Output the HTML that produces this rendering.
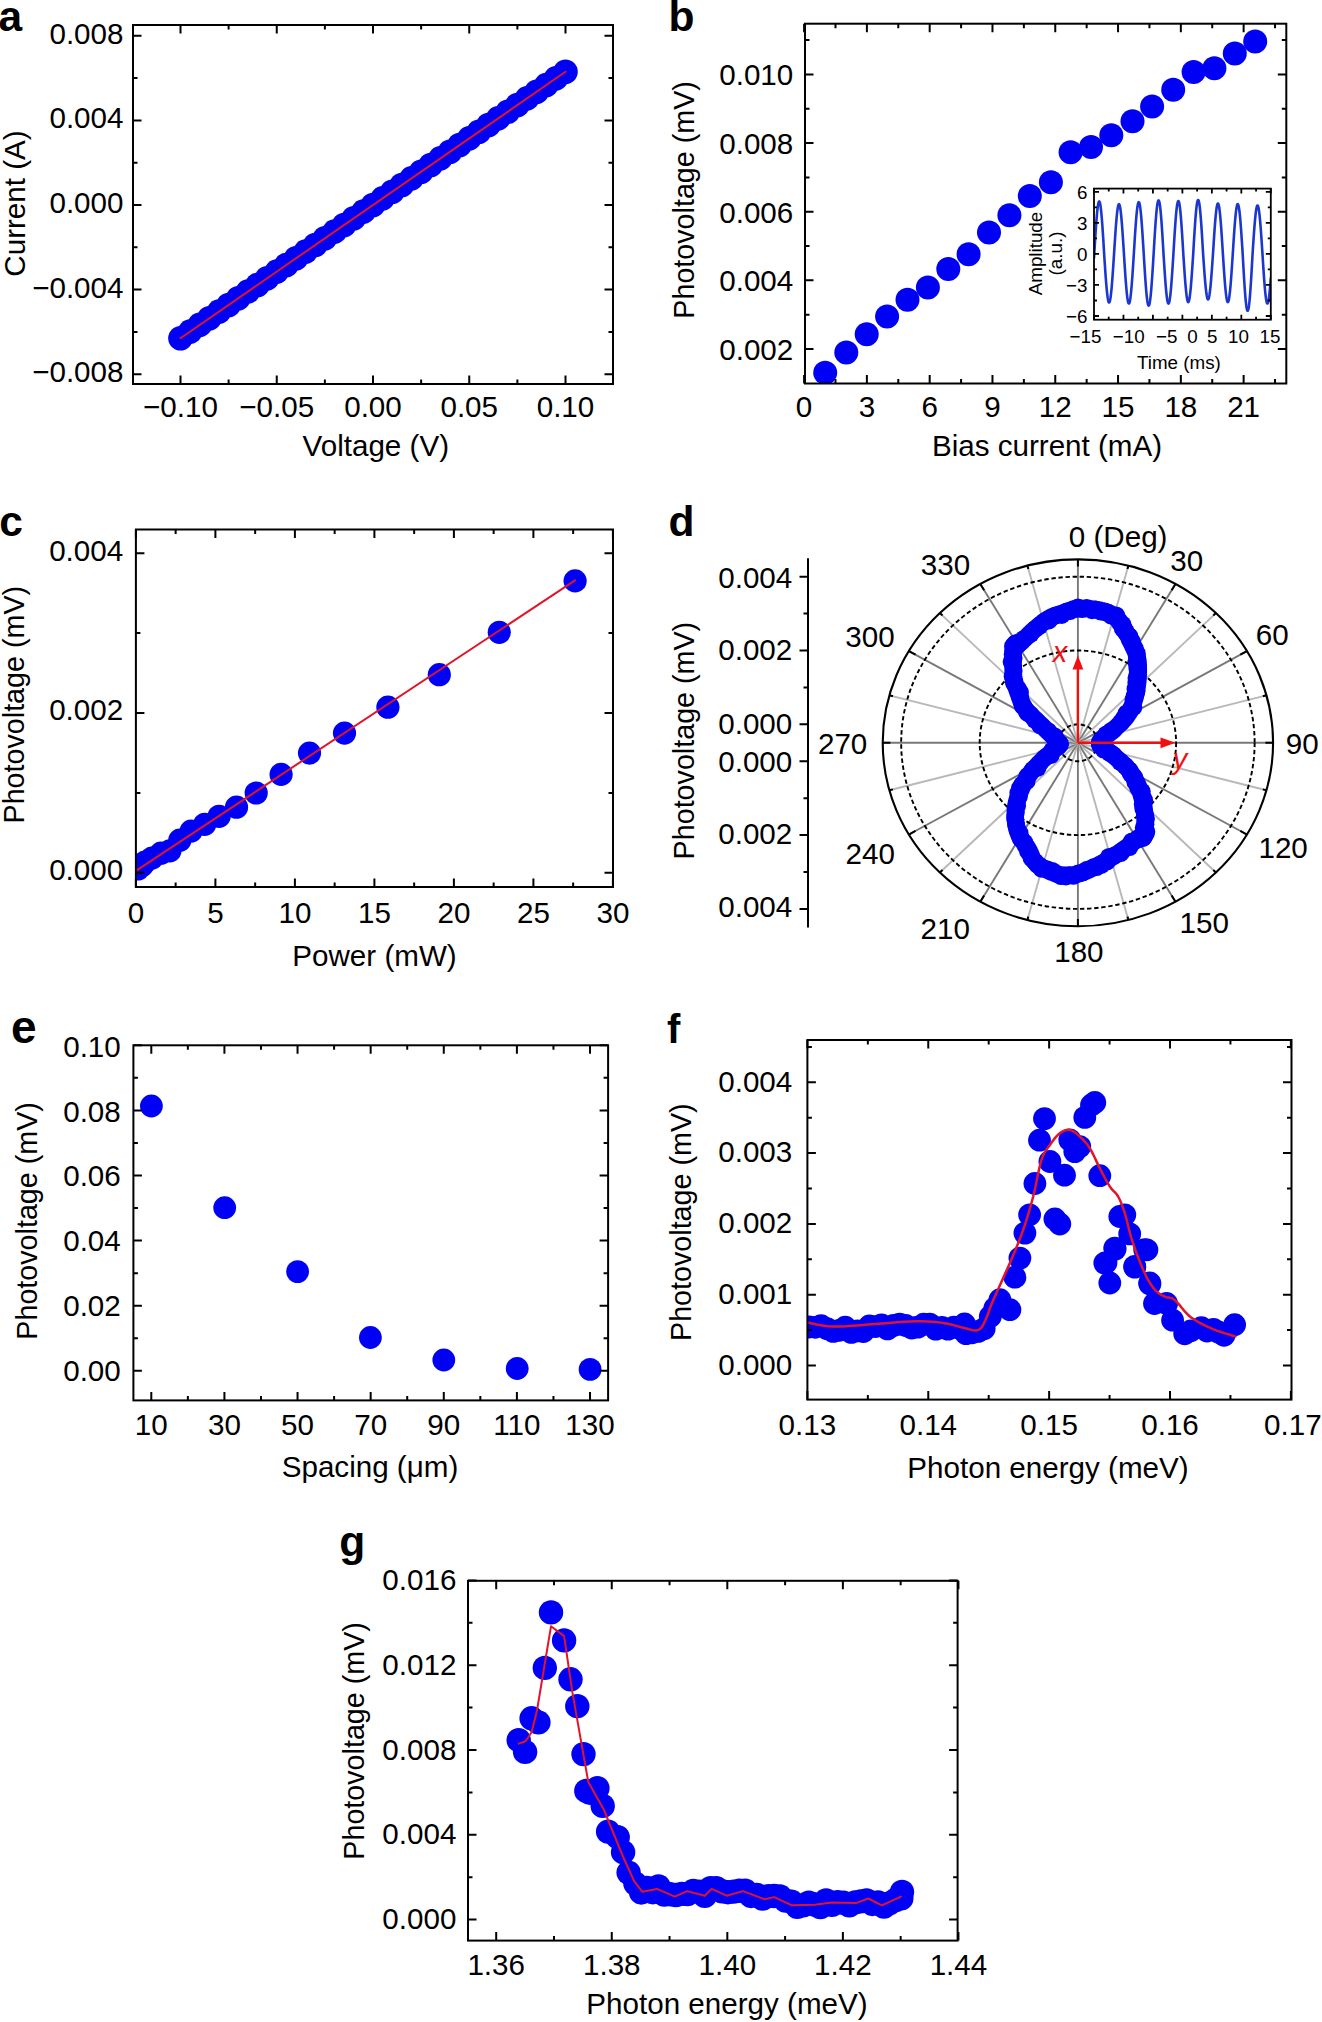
<!DOCTYPE html>
<html><head><meta charset="utf-8"><title>Figure</title>
<style>
html,body{margin:0;padding:0;background:#fff;overflow:hidden;}
svg{display:block;}
</style></head><body>
<svg width="1322" height="2022" viewBox="0 0 1322 2022" style="font-family:'Liberation Sans',sans-serif;font-size:29.6px">
<rect width="1322" height="2022" fill="#fff"/>
<g fill="#0000f5">
<circle cx="180.5" cy="338.25" r="12.3"/>
<circle cx="190.12" cy="331.58" r="12.3"/>
<circle cx="199.75" cy="324.92" r="12.3"/>
<circle cx="209.38" cy="318.26" r="12.3"/>
<circle cx="219" cy="311.6" r="12.3"/>
<circle cx="228.62" cy="304.93" r="12.3"/>
<circle cx="238.25" cy="298.27" r="12.3"/>
<circle cx="247.88" cy="291.61" r="12.3"/>
<circle cx="257.5" cy="284.95" r="12.3"/>
<circle cx="267.12" cy="278.28" r="12.3"/>
<circle cx="276.75" cy="271.62" r="12.3"/>
<circle cx="286.38" cy="264.96" r="12.3"/>
<circle cx="296" cy="258.3" r="12.3"/>
<circle cx="305.62" cy="251.64" r="12.3"/>
<circle cx="315.25" cy="244.97" r="12.3"/>
<circle cx="324.88" cy="238.31" r="12.3"/>
<circle cx="334.5" cy="231.65" r="12.3"/>
<circle cx="344.12" cy="224.99" r="12.3"/>
<circle cx="353.75" cy="218.32" r="12.3"/>
<circle cx="363.38" cy="211.66" r="12.3"/>
<circle cx="373" cy="205" r="12.3"/>
<circle cx="382.62" cy="198.34" r="12.3"/>
<circle cx="392.25" cy="191.68" r="12.3"/>
<circle cx="401.88" cy="185.01" r="12.3"/>
<circle cx="411.5" cy="178.35" r="12.3"/>
<circle cx="421.12" cy="171.69" r="12.3"/>
<circle cx="430.75" cy="165.03" r="12.3"/>
<circle cx="440.38" cy="158.36" r="12.3"/>
<circle cx="450" cy="151.7" r="12.3"/>
<circle cx="459.62" cy="145.04" r="12.3"/>
<circle cx="469.25" cy="138.38" r="12.3"/>
<circle cx="478.88" cy="131.72" r="12.3"/>
<circle cx="488.5" cy="125.05" r="12.3"/>
<circle cx="498.12" cy="118.39" r="12.3"/>
<circle cx="507.75" cy="111.73" r="12.3"/>
<circle cx="517.38" cy="105.07" r="12.3"/>
<circle cx="527" cy="98.4" r="12.3"/>
<circle cx="536.62" cy="91.74" r="12.3"/>
<circle cx="546.25" cy="85.08" r="12.3"/>
<circle cx="555.88" cy="78.42" r="12.3"/>
<circle cx="565.5" cy="71.75" r="12.3"/>
</g>
<polyline points="180.5,338.25 565.5,71.75" fill="none" stroke="#e0142a" stroke-width="2" stroke-linejoin="round" stroke-linecap="round"/>
<path d="M180.5 384L180.5 375.5M180.5 25L180.5 33.5M276.75 384L276.75 375.5M276.75 25L276.75 33.5M373 384L373 375.5M373 25L373 33.5M469.25 384L469.25 375.5M469.25 25L469.25 33.5M565.5 384L565.5 375.5M565.5 25L565.5 33.5M228.62 384L228.62 379.5M228.62 25L228.62 29.5M324.88 384L324.88 379.5M324.88 25L324.88 29.5M421.12 384L421.12 379.5M421.12 25L421.12 29.5M517.38 384L517.38 379.5M517.38 25L517.38 29.5M133 35.8L141.5 35.8M613 35.8L604.5 35.8M133 120.4L141.5 120.4M613 120.4L604.5 120.4M133 205L141.5 205M613 205L604.5 205M133 289.6L141.5 289.6M613 289.6L604.5 289.6M133 374.2L141.5 374.2M613 374.2L604.5 374.2M133 78.1L137.5 78.1M613 78.1L608.5 78.1M133 162.7L137.5 162.7M613 162.7L608.5 162.7M133 247.3L137.5 247.3M613 247.3L608.5 247.3M133 331.9L137.5 331.9M613 331.9L608.5 331.9" stroke="#000" stroke-width="2" fill="none"/>
<rect x="133" y="25" width="480" height="359" fill="none" stroke="#000" stroke-width="2"/>
<text x="123.5" y="43.8" text-anchor="end">0.008</text>
<text x="123.5" y="128.4" text-anchor="end">0.004</text>
<text x="123.5" y="213" text-anchor="end">0.000</text>
<text x="123.5" y="297.6" text-anchor="end">&#8722;0.004</text>
<text x="123.5" y="382.2" text-anchor="end">&#8722;0.008</text>
<text x="180.5" y="417.4" text-anchor="middle">&#8722;0.10</text>
<text x="276.75" y="417.4" text-anchor="middle">&#8722;0.05</text>
<text x="373" y="417.4" text-anchor="middle">0.00</text>
<text x="469.25" y="417.4" text-anchor="middle">0.05</text>
<text x="565.5" y="417.4" text-anchor="middle">0.10</text>
<text x="375.8" y="455.9" text-anchor="middle">Voltage (V)</text>
<text x="24.5" y="203.5" text-anchor="middle" transform="rotate(-90 24.5 203.5)">Current (A)</text>
<text x="-1.5" y="30.8" font-size="42.5" font-weight="bold">a</text>
<clipPath id="cb"><rect x="805" y="23.7" width="481.29999999999995" height="359.8"/></clipPath>
<g clip-path="url(#cb)">
<g fill="#0000f5">
<circle cx="825.2" cy="372.8" r="12"/>
<circle cx="846.3" cy="352.5" r="12"/>
<circle cx="866.7" cy="334.3" r="12"/>
<circle cx="887.1" cy="316.5" r="12"/>
<circle cx="907.5" cy="299.8" r="12"/>
<circle cx="927.9" cy="287.6" r="12"/>
<circle cx="948.3" cy="269.1" r="12"/>
<circle cx="968.6" cy="254.2" r="12"/>
<circle cx="989" cy="232.4" r="12"/>
<circle cx="1009.4" cy="215.3" r="12"/>
<circle cx="1029.8" cy="196" r="12"/>
<circle cx="1050.9" cy="182.3" r="12"/>
<circle cx="1070.6" cy="152.3" r="12"/>
<circle cx="1091" cy="147.1" r="12"/>
<circle cx="1111.3" cy="135.3" r="12"/>
<circle cx="1132.5" cy="121.2" r="12"/>
<circle cx="1152.1" cy="106.4" r="12"/>
<circle cx="1173.2" cy="89.7" r="12"/>
<circle cx="1193.6" cy="71.9" r="12"/>
<circle cx="1214.4" cy="68.2" r="12"/>
<circle cx="1234.8" cy="53.4" r="12"/>
<circle cx="1255.2" cy="41.5" r="12"/>
</g>
</g>
<path d="M804.1 383.5L804.1 375M804.1 23.7L804.1 32.2M866.89 383.5L866.89 375M866.89 23.7L866.89 32.2M929.68 383.5L929.68 375M929.68 23.7L929.68 32.2M992.47 383.5L992.47 375M992.47 23.7L992.47 32.2M1055.26 383.5L1055.26 375M1055.26 23.7L1055.26 32.2M1118.05 383.5L1118.05 375M1118.05 23.7L1118.05 32.2M1180.84 383.5L1180.84 375M1180.84 23.7L1180.84 32.2M1243.63 383.5L1243.63 375M1243.63 23.7L1243.63 32.2M835.5 383.5L835.5 379M835.5 23.7L835.5 28.2M898.29 383.5L898.29 379M898.29 23.7L898.29 28.2M961.08 383.5L961.08 379M961.08 23.7L961.08 28.2M1023.87 383.5L1023.87 379M1023.87 23.7L1023.87 28.2M1086.65 383.5L1086.65 379M1086.65 23.7L1086.65 28.2M1149.44 383.5L1149.44 379M1149.44 23.7L1149.44 28.2M1212.24 383.5L1212.24 379M1212.24 23.7L1212.24 28.2M1275.03 383.5L1275.03 379M1275.03 23.7L1275.03 28.2M805 349L813.5 349M1286.3 349L1277.8 349M805 280.35L813.5 280.35M1286.3 280.35L1277.8 280.35M805 211.7L813.5 211.7M1286.3 211.7L1277.8 211.7M805 143.05L813.5 143.05M1286.3 143.05L1277.8 143.05M805 74.4L813.5 74.4M1286.3 74.4L1277.8 74.4M805 314.68L809.5 314.68M1286.3 314.68L1281.8 314.68M805 246.03L809.5 246.03M1286.3 246.03L1281.8 246.03M805 177.38L809.5 177.38M1286.3 177.38L1281.8 177.38M805 108.73L809.5 108.73M1286.3 108.73L1281.8 108.73M805 40.08L809.5 40.08M1286.3 40.08L1281.8 40.08" stroke="#000" stroke-width="2" fill="none"/>
<rect x="805" y="23.7" width="481.3" height="359.8" fill="none" stroke="#000" stroke-width="2"/>
<text x="793.3" y="360" text-anchor="end">0.002</text>
<text x="793.3" y="291.35" text-anchor="end">0.004</text>
<text x="793.3" y="222.7" text-anchor="end">0.006</text>
<text x="793.3" y="154.05" text-anchor="end">0.008</text>
<text x="793.3" y="85.4" text-anchor="end">0.010</text>
<text x="804.1" y="417.2" text-anchor="middle">0</text>
<text x="866.89" y="417.2" text-anchor="middle">3</text>
<text x="929.68" y="417.2" text-anchor="middle">6</text>
<text x="992.47" y="417.2" text-anchor="middle">9</text>
<text x="1055.26" y="417.2" text-anchor="middle">12</text>
<text x="1118.05" y="417.2" text-anchor="middle">15</text>
<text x="1180.84" y="417.2" text-anchor="middle">18</text>
<text x="1243.63" y="417.2" text-anchor="middle">21</text>
<text x="1047" y="456" text-anchor="middle">Bias current (mA)</text>
<text x="693.9" y="199.9" text-anchor="middle" font-size="28.7" transform="rotate(-90 693.9 199.9)">Photovoltage (mV)</text>
<text x="668.5" y="30.8" font-size="42.5" font-weight="bold">b</text>
<rect x="1094" y="188.6" width="176.79999999999995" height="131.1" fill="#fff"/>
<clipPath id="ci"><rect x="1094" y="188.6" width="176.79999999999995" height="131.1"/></clipPath>
<g clip-path="url(#ci)">
<polyline points="1094,257.8 1094.25,253.94 1094.5,249.78 1094.75,245.65 1095,241.56 1095.25,237.56 1095.5,233.66 1095.75,229.88 1096,226.26 1096.25,222.81 1096.5,219.55 1096.75,216.52 1097,213.71 1097.25,211.17 1097.5,208.89 1097.75,206.89 1098,205.19 1098.25,203.79 1098.5,202.72 1098.75,201.96 1099,201.53 1099.25,201.43 1099.5,201.66 1099.75,202.22 1100,203.11 1100.25,204.31 1100.5,205.83 1100.75,207.65 1101,209.76 1101.25,212.15 1101.5,214.81 1101.75,217.7 1102,220.83 1102.25,224.16 1102.5,227.69 1102.75,231.37 1103,235.2 1103.25,239.15 1103.5,243.19 1103.75,247.3 1104,251.44 1104.25,255.48 1104.5,259.33 1104.75,263.15 1105,266.91 1105.25,270.58 1105.5,274.15 1105.75,277.6 1106,280.89 1106.25,284.01 1106.5,286.95 1106.75,289.67 1107,292.18 1107.25,294.44 1107.5,296.44 1107.75,298.18 1108,299.63 1108.25,300.8 1108.5,301.68 1108.75,302.25 1109,302.52 1109.25,302.49 1109.5,302.14 1109.75,301.5 1110,300.55 1110.25,299.31 1110.5,297.78 1110.75,295.98 1111,293.92 1111.25,291.6 1111.5,289.04 1111.75,286.26 1112,283.28 1112.25,280.11 1112.5,276.78 1112.75,273.31 1113,269.71 1113.25,266.01 1113.5,262.24 1113.75,258.41 1114,254.56 1114.25,250.62 1114.5,246.69 1114.75,242.81 1115,239 1115.25,235.28 1115.5,231.68 1115.75,228.21 1116,224.91 1116.25,221.8 1116.5,218.88 1116.75,216.18 1117,213.73 1117.25,211.52 1117.5,209.58 1117.75,207.92 1118,206.56 1118.25,205.48 1118.5,204.72 1118.75,204.26 1119,204.12 1119.25,204.29 1119.5,204.77 1119.75,205.56 1120,206.65 1120.25,208.05 1120.5,209.73 1120.75,211.69 1121,213.91 1121.25,216.39 1121.5,219.11 1121.75,222.04 1122,225.17 1122.25,228.49 1122.5,231.96 1122.75,235.57 1123,239.3 1123.25,243.12 1123.5,247.01 1123.75,250.94 1124,254.89 1124.25,258.82 1124.5,262.73 1124.75,266.57 1125,270.34 1125.25,274.01 1125.5,277.55 1125.75,280.94 1126,284.16 1126.25,287.19 1126.5,290 1126.75,292.6 1127,294.95 1127.25,297.04 1127.5,298.85 1127.75,300.39 1128,301.63 1128.25,302.57 1128.5,303.21 1128.75,303.53 1129,303.55 1129.25,303.25 1129.5,302.64 1129.75,301.72 1130,300.5 1130.25,298.99 1130.5,297.19 1130.75,295.12 1131,292.79 1131.25,290.22 1131.5,287.42 1131.75,284.41 1132,281.2 1132.25,277.82 1132.5,274.3 1132.75,270.64 1133,266.88 1133.25,263.04 1133.5,259.13 1133.75,255.2 1134,251.15 1134.25,247.06 1134.5,243.01 1134.75,239.04 1135,235.15 1135.25,231.39 1135.5,227.76 1135.75,224.31 1136,221.03 1136.25,217.97 1136.5,215.13 1136.75,212.53 1137,210.2 1137.25,208.14 1137.5,206.36 1137.75,204.89 1138,203.73 1138.25,202.88 1138.5,202.35 1138.75,202.15 1139,202.28 1139.25,202.73 1139.5,203.5 1139.75,204.58 1140,205.98 1140.25,207.68 1140.5,209.68 1140.75,211.95 1141,214.48 1141.25,217.26 1141.5,220.28 1141.75,223.5 1142,226.92 1142.25,230.5 1142.5,234.24 1142.75,238.1 1143,242.05 1143.25,246.08 1143.5,250.17 1143.75,254.27 1144,258.37 1144.25,262.45 1144.5,266.47 1144.75,270.41 1145,274.24 1145.25,277.95 1145.5,281.51 1145.75,284.89 1146,288.08 1146.25,291.05 1146.5,293.79 1146.75,296.28 1147,298.5 1147.25,300.44 1147.5,302.09 1147.75,303.43 1148,304.47 1148.25,305.18 1148.5,305.57 1148.75,305.64 1149,305.37 1149.25,304.79 1149.5,303.88 1149.75,302.66 1150,301.14 1150.25,299.31 1150.5,297.2 1150.75,294.82 1151,292.18 1151.25,289.3 1151.5,286.19 1151.75,282.89 1152,279.39 1152.25,275.74 1152.5,271.96 1152.75,268.05 1153,264.06 1153.25,260.01 1153.5,255.91 1153.75,251.73 1154,247.5 1154.25,243.31 1154.5,239.18 1154.75,235.15 1155,231.24 1155.25,227.46 1155.5,223.86 1155.75,220.44 1156,217.24 1156.25,214.26 1156.5,211.54 1156.75,209.08 1157,206.9 1157.25,205.02 1157.5,203.45 1157.75,202.19 1158,201.26 1158.25,200.67 1158.5,200.4 1158.75,200.48 1159,200.89 1159.25,201.63 1159.5,202.71 1159.75,204.1 1160,205.81 1160.25,207.82 1160.5,210.13 1160.75,212.7 1161,215.54 1161.25,218.62 1161.5,221.92 1161.75,225.42 1162,229.11 1162.25,232.94 1162.5,236.91 1162.75,240.99 1163,245.15 1163.25,249.36 1163.5,253.6 1163.75,257.56 1164,261.48 1164.25,265.35 1164.5,269.15 1164.75,272.85 1165,276.43 1165.25,279.87 1165.5,283.15 1165.75,286.24 1166,289.13 1166.25,291.79 1166.5,294.22 1166.75,296.4 1167,298.3 1167.25,299.93 1167.5,301.27 1167.75,302.31 1168,303.04 1168.25,303.46 1168.5,303.58 1168.75,303.38 1169,302.87 1169.25,302.04 1169.5,300.92 1169.75,299.5 1170,297.8 1170.25,295.81 1170.5,293.57 1170.75,291.07 1171,288.34 1171.25,285.39 1171.5,282.25 1171.75,278.92 1172,275.44 1172.25,271.82 1172.5,268.09 1172.75,264.27 1173,260.39 1173.25,256.46 1173.5,252.43 1173.75,248.24 1174,244.09 1174.25,240 1174.5,236 1174.75,232.11 1175,228.36 1175.25,224.77 1175.5,221.36 1175.75,218.15 1176,215.18 1176.25,212.44 1176.5,209.97 1176.75,207.77 1177,205.87 1177.25,204.26 1177.5,202.97 1177.75,202 1178,201.36 1178.25,201.04 1178.5,201.06 1178.75,201.42 1179,202.1 1179.25,203.11 1179.5,204.44 1179.75,206.08 1180,208.02 1180.25,210.25 1180.5,212.76 1180.75,215.52 1181,218.53 1181.25,221.76 1181.5,225.19 1181.75,228.8 1182,232.57 1182.25,236.47 1182.5,240.49 1182.75,244.59 1183,248.74 1183.25,252.93 1183.5,256.85 1183.75,260.65 1184,264.42 1184.25,268.12 1184.5,271.73 1184.75,275.22 1185,278.59 1185.25,281.8 1185.5,284.83 1185.75,287.66 1186,290.29 1186.25,292.68 1186.5,294.84 1186.75,296.73 1187,298.35 1187.25,299.7 1187.5,300.75 1187.75,301.51 1188,301.97 1188.25,302.13 1188.5,301.99 1188.75,301.54 1189,300.79 1189.25,299.74 1189.5,298.41 1189.75,296.8 1190,294.92 1190.25,292.78 1190.5,290.39 1190.75,287.77 1191,284.94 1191.25,281.92 1191.5,278.72 1191.75,275.36 1192,271.87 1192.25,268.26 1192.5,264.57 1192.75,260.81 1193,257 1193.25,253.09 1193.5,248.81 1193.75,244.57 1194,240.39 1194.25,236.3 1194.5,232.31 1194.75,228.46 1195,224.77 1195.25,221.26 1195.5,217.96 1195.75,214.89 1196,212.06 1196.25,209.49 1196.5,207.21 1196.75,205.22 1197,203.53 1197.25,202.16 1197.5,201.12 1197.75,200.41 1198,200.04 1198.25,200 1198.5,200.31 1198.75,200.95 1199,201.93 1199.25,203.23 1199.5,204.85 1199.75,206.79 1200,209.01 1200.25,211.52 1200.5,214.3 1200.75,217.33 1201,220.59 1201.25,224.05 1201.5,227.71 1201.75,231.53 1202,235.49 1202.25,239.56 1202.5,243.73 1202.75,247.96 1203,252.23 1203.25,256.1 1203.5,259.7 1203.75,263.27 1204,266.77 1204.25,270.19 1204.5,273.51 1204.75,276.71 1205,279.77 1205.25,282.66 1205.5,285.37 1205.75,287.88 1206,290.17 1206.25,292.24 1206.5,294.07 1206.75,295.64 1207,296.96 1207.25,298 1207.5,298.76 1207.75,299.24 1208,299.44 1208.25,299.34 1208.5,298.97 1208.75,298.3 1209,297.36 1209.25,296.15 1209.5,294.67 1209.75,292.93 1210,290.95 1210.25,288.73 1210.5,286.29 1210.75,283.65 1211,280.83 1211.25,277.83 1211.5,274.68 1211.75,271.4 1212,268.01 1212.25,264.54 1212.5,260.99 1212.75,257.4 1213,253.78 1213.25,249.78 1213.5,245.81 1213.75,241.89 1214,238.05 1214.25,234.31 1214.5,230.69 1214.75,227.21 1215,223.91 1215.25,220.79 1215.5,217.88 1215.75,215.2 1216,212.76 1216.25,210.58 1216.5,208.67 1216.75,207.05 1217,205.72 1217.25,204.7 1217.5,203.99 1217.75,203.59 1218,203.5 1218.25,203.74 1218.5,204.29 1218.75,205.15 1219,206.32 1219.25,207.79 1219.5,209.55 1219.75,211.59 1220,213.9 1220.25,216.45 1220.5,219.25 1220.75,222.26 1221,225.47 1221.25,228.86 1221.5,232.41 1221.75,236.09 1222,239.88 1222.25,243.77 1222.5,247.71 1222.75,251.7 1223,255.62 1223.25,259.44 1223.5,263.22 1223.75,266.94 1224,270.58 1224.25,274.12 1224.5,277.53 1224.75,280.79 1225,283.88 1225.25,286.78 1225.5,289.47 1225.75,291.94 1226,294.17 1226.25,296.15 1226.5,297.86 1226.75,299.3 1227,300.45 1227.25,301.3 1227.5,301.86 1227.75,302.11 1228,302.06 1228.25,301.71 1228.5,301.06 1228.75,300.11 1229,298.87 1229.25,297.35 1229.5,295.55 1229.75,293.49 1230,291.18 1230.25,288.63 1230.5,285.87 1230.75,282.91 1231,279.76 1231.25,276.45 1231.5,273 1231.75,269.43 1232,265.76 1232.25,262.02 1232.5,258.22 1232.75,254.4 1233,250.46 1233.25,246.54 1233.5,242.66 1233.75,238.85 1234,235.13 1234.25,231.53 1234.5,228.08 1234.75,224.79 1235,221.67 1235.25,218.77 1235.5,216.08 1235.75,213.63 1236,211.44 1236.25,209.51 1236.5,207.86 1236.75,206.51 1237,205.45 1237.25,204.69 1237.5,204.25 1237.75,204.12 1238,204.3 1238.25,204.79 1238.5,205.6 1238.75,206.7 1239,208.11 1239.25,209.8 1239.5,211.77 1239.75,214.01 1240,216.5 1240.25,219.22 1240.5,222.16 1240.75,225.3 1241,228.62 1241.25,232.1 1241.5,235.72 1241.75,239.45 1242,243.27 1242.25,247.16 1242.5,251.1 1242.75,255.21 1243,259.72 1243.25,264.19 1243.5,268.6 1243.75,272.91 1244,277.11 1244.25,281.15 1244.5,285.03 1244.75,288.71 1245,292.17 1245.25,295.39 1245.5,298.35 1245.75,301.03 1246,303.42 1246.25,305.49 1246.5,307.23 1246.75,308.64 1247,309.71 1247.25,310.42 1247.5,310.78 1247.75,310.78 1248,310.42 1248.25,309.71 1248.5,308.64 1248.75,307.23 1249,305.49 1249.25,303.42 1249.5,301.03 1249.75,298.35 1250,295.39 1250.25,292.17 1250.5,288.71 1250.75,285.03 1251,281.15 1251.25,277.11 1251.5,272.91 1251.75,268.6 1252,264.19 1252.25,259.72 1252.5,255.21 1252.75,251.17 1253,247.35 1253.25,243.56 1253.5,239.84 1253.75,236.21 1254,232.69 1254.25,229.3 1254.5,226.07 1254.75,223.02 1255,220.16 1255.25,217.51 1255.5,215.09 1255.75,212.91 1256,210.99 1256.25,209.35 1256.5,207.98 1256.75,206.9 1257,206.12 1257.25,205.64 1257.5,205.46 1257.75,205.59 1258,206.02 1258.25,206.76 1258.5,207.79 1258.75,209.11 1259,210.71 1259.25,212.59 1259.5,214.72 1259.75,217.1 1260,219.72 1260.25,222.55 1260.5,225.57 1260.75,228.78 1261,232.14 1261.25,235.64 1261.5,239.25 1261.75,242.96 1262,246.74 1262.25,250.56 1262.5,254.41 1262.75,258.35 1263,262.26 1263.25,266.12 1263.5,269.9 1263.75,273.57 1264,277.13 1264.25,280.54 1264.5,283.78 1264.75,286.83 1265,289.68 1265.25,292.3 1265.5,294.68 1265.75,296.8 1266,298.65 1266.25,300.22 1266.5,301.5 1266.75,302.48 1267,303.15 1267.25,303.51 1267.5,303.56 1267.75,303.3 1268,302.73 1268.25,301.84 1268.5,300.66 1268.75,299.18 1269,297.42 1269.25,295.38 1269.5,293.09 1269.75,290.54 1270,287.77 1270.25,284.78 1270.5,281.59 1270.75,278.24" fill="none" stroke="#1c36d0" stroke-width="2.6" stroke-linejoin="round" stroke-linecap="round"/>
</g>
<path d="M1094 319.7L1094 314.7M1094 188.6L1094 193.6M1123.46 319.7L1123.46 314.7M1123.46 188.6L1123.46 193.6M1152.93 319.7L1152.93 314.7M1152.93 188.6L1152.93 193.6M1182.39 319.7L1182.39 314.7M1182.39 188.6L1182.39 193.6M1211.86 319.7L1211.86 314.7M1211.86 188.6L1211.86 193.6M1241.33 319.7L1241.33 314.7M1241.33 188.6L1241.33 193.6M1270.79 319.7L1270.79 314.7M1270.79 188.6L1270.79 193.6M1108.73 319.7L1108.73 316.7M1108.73 188.6L1108.73 191.6M1138.2 319.7L1138.2 316.7M1138.2 188.6L1138.2 191.6M1167.66 319.7L1167.66 316.7M1167.66 188.6L1167.66 191.6M1197.13 319.7L1197.13 316.7M1197.13 188.6L1197.13 191.6M1226.59 319.7L1226.59 316.7M1226.59 188.6L1226.59 191.6M1256.06 319.7L1256.06 316.7M1256.06 188.6L1256.06 191.6M1094 316L1099 316M1270.8 316L1265.8 316M1094 284.95L1099 284.95M1270.8 284.95L1265.8 284.95M1094 253.9L1099 253.9M1270.8 253.9L1265.8 253.9M1094 222.85L1099 222.85M1270.8 222.85L1265.8 222.85M1094 191.8L1099 191.8M1270.8 191.8L1265.8 191.8M1094 300.48L1097 300.48M1270.8 300.48L1267.8 300.48M1094 269.43L1097 269.43M1270.8 269.43L1267.8 269.43M1094 238.38L1097 238.38M1270.8 238.38L1267.8 238.38M1094 207.33L1097 207.33M1270.8 207.33L1267.8 207.33" stroke="#000" stroke-width="1.8" fill="none"/>
<rect x="1094" y="188.6" width="176.8" height="131.1" fill="none" stroke="#000" stroke-width="1.8"/>
<text x="1087.5" y="198.6" text-anchor="end" font-size="18.8">6</text>
<text x="1087.5" y="229.65" text-anchor="end" font-size="18.8">3</text>
<text x="1087.5" y="260.7" text-anchor="end" font-size="18.8">0</text>
<text x="1087.5" y="291.75" text-anchor="end" font-size="18.8">&#8722;3</text>
<text x="1087.5" y="322.8" text-anchor="end" font-size="18.8">&#8722;6</text>
<text x="1085.4" y="343.3" text-anchor="middle" font-size="18.8">&#8722;15</text>
<text x="1128.8" y="343.3" text-anchor="middle" font-size="18.8">&#8722;10</text>
<text x="1166.7" y="343.3" text-anchor="middle" font-size="18.8">&#8722;5</text>
<text x="1192.6" y="343.3" text-anchor="middle" font-size="18.8">0</text>
<text x="1212.2" y="343.3" text-anchor="middle" font-size="18.8">5</text>
<text x="1238.5" y="343.3" text-anchor="middle" font-size="18.8">10</text>
<text x="1270" y="343.3" text-anchor="middle" font-size="18.8">15</text>
<text x="1178.9" y="369" text-anchor="middle" font-size="18.8">Time (ms)</text>
<text x="1041.6" y="253.5" text-anchor="middle" font-size="18.8" transform="rotate(-90 1041.6 253.5)">Amplitude</text>
<text x="1062.4" y="253.5" text-anchor="middle" font-size="18.8" transform="rotate(-90 1062.4 253.5)">(a.u.)</text>
<clipPath id="cc"><rect x="135.9" y="529.5" width="477.1" height="357.5"/></clipPath>
<g clip-path="url(#cc)">
<g fill="#0000f5">
<circle cx="575.1" cy="580.9" r="11.6"/>
<circle cx="499.3" cy="632.3" r="11.6"/>
<circle cx="439.3" cy="674.7" r="11.6"/>
<circle cx="387.9" cy="707.2" r="11.6"/>
<circle cx="344.5" cy="733.1" r="11.6"/>
<circle cx="309.5" cy="753.1" r="11.6"/>
<circle cx="281.1" cy="774.4" r="11.6"/>
<circle cx="256.2" cy="793" r="11.6"/>
<circle cx="236.5" cy="807.2" r="11.6"/>
<circle cx="219.1" cy="816.3" r="11.6"/>
<circle cx="204.7" cy="824.3" r="11.6"/>
<circle cx="191.1" cy="831.1" r="11.6"/>
<circle cx="179.8" cy="840.2" r="11.6"/>
<circle cx="169.9" cy="850.8" r="11.6"/>
<circle cx="161" cy="853.2" r="11.6"/>
<circle cx="152" cy="858" r="11.6"/>
<circle cx="145" cy="862" r="11.6"/>
<circle cx="142.1" cy="865.5" r="11.6"/>
<circle cx="138" cy="869" r="11.6"/>
</g>
<polyline points="135.9,870.9 575,580.35" fill="none" stroke="#e0142a" stroke-width="2" stroke-linejoin="round" stroke-linecap="round"/>
</g>
<path d="M135.9 887L135.9 878.5M135.9 529.5L135.9 538M215.4 887L215.4 878.5M215.4 529.5L215.4 538M294.9 887L294.9 878.5M294.9 529.5L294.9 538M374.4 887L374.4 878.5M374.4 529.5L374.4 538M453.9 887L453.9 878.5M453.9 529.5L453.9 538M533.4 887L533.4 878.5M533.4 529.5L533.4 538M612.9 887L612.9 878.5M612.9 529.5L612.9 538M175.65 887L175.65 882.5M175.65 529.5L175.65 534M255.15 887L255.15 882.5M255.15 529.5L255.15 534M334.65 887L334.65 882.5M334.65 529.5L334.65 534M414.15 887L414.15 882.5M414.15 529.5L414.15 534M493.65 887L493.65 882.5M493.65 529.5L493.65 534M573.15 887L573.15 882.5M573.15 529.5L573.15 534M135.9 872.8L144.4 872.8M613 872.8L604.5 872.8M135.9 713L144.4 713M613 713L604.5 713M135.9 553.2L144.4 553.2M613 553.2L604.5 553.2M135.9 792.9L140.4 792.9M613 792.9L608.5 792.9M135.9 633.1L140.4 633.1M613 633.1L608.5 633.1" stroke="#000" stroke-width="2" fill="none"/>
<rect x="135.9" y="529.5" width="477.1" height="357.5" fill="none" stroke="#000" stroke-width="2"/>
<text x="123.2" y="880.2" text-anchor="end">0.000</text>
<text x="123.2" y="720.4" text-anchor="end">0.002</text>
<text x="123.2" y="560.6" text-anchor="end">0.004</text>
<text x="135.9" y="923.2" text-anchor="middle">0</text>
<text x="215.4" y="923.2" text-anchor="middle">5</text>
<text x="294.9" y="923.2" text-anchor="middle">10</text>
<text x="374.4" y="923.2" text-anchor="middle">15</text>
<text x="453.9" y="923.2" text-anchor="middle">20</text>
<text x="533.4" y="923.2" text-anchor="middle">25</text>
<text x="612.9" y="923.2" text-anchor="middle">30</text>
<text x="374.5" y="966.4" text-anchor="middle">Power (mW)</text>
<text x="24.2" y="704.7" text-anchor="middle" font-size="28.7" transform="rotate(-90 24.2 704.7)">Photovoltage (mV)</text>
<text x="-0.8" y="535.6" font-size="42.5" font-weight="bold">c</text>
<line x1="1077.9" y1="742.8" x2="1077.9" y2="559.36" stroke="#787878" stroke-width="1.9"/>
<line x1="1077.9" y1="742.8" x2="1128.42" y2="565.61" stroke="#b8b8b8" stroke-width="1.9"/>
<line x1="1077.9" y1="742.8" x2="1175.49" y2="583.93" stroke="#787878" stroke-width="1.9"/>
<line x1="1077.9" y1="742.8" x2="1215.92" y2="613.09" stroke="#b8b8b8" stroke-width="1.9"/>
<line x1="1077.9" y1="742.8" x2="1246.93" y2="651.08" stroke="#787878" stroke-width="1.9"/>
<line x1="1077.9" y1="742.8" x2="1266.43" y2="695.32" stroke="#b8b8b8" stroke-width="1.9"/>
<line x1="1077.9" y1="742.8" x2="1273.08" y2="742.8" stroke="#787878" stroke-width="1.9"/>
<line x1="1077.9" y1="742.8" x2="1266.43" y2="790.28" stroke="#b8b8b8" stroke-width="1.9"/>
<line x1="1077.9" y1="742.8" x2="1246.93" y2="834.52" stroke="#787878" stroke-width="1.9"/>
<line x1="1077.9" y1="742.8" x2="1215.92" y2="872.51" stroke="#b8b8b8" stroke-width="1.9"/>
<line x1="1077.9" y1="742.8" x2="1175.49" y2="901.67" stroke="#787878" stroke-width="1.9"/>
<line x1="1077.9" y1="742.8" x2="1128.42" y2="919.99" stroke="#b8b8b8" stroke-width="1.9"/>
<line x1="1077.9" y1="742.8" x2="1077.9" y2="926.24" stroke="#787878" stroke-width="1.9"/>
<line x1="1077.9" y1="742.8" x2="1027.38" y2="919.99" stroke="#b8b8b8" stroke-width="1.9"/>
<line x1="1077.9" y1="742.8" x2="980.31" y2="901.67" stroke="#787878" stroke-width="1.9"/>
<line x1="1077.9" y1="742.8" x2="939.88" y2="872.51" stroke="#b8b8b8" stroke-width="1.9"/>
<line x1="1077.9" y1="742.8" x2="908.87" y2="834.52" stroke="#787878" stroke-width="1.9"/>
<line x1="1077.9" y1="742.8" x2="889.37" y2="790.28" stroke="#b8b8b8" stroke-width="1.9"/>
<line x1="1077.9" y1="742.8" x2="882.72" y2="742.8" stroke="#787878" stroke-width="1.9"/>
<line x1="1077.9" y1="742.8" x2="889.37" y2="695.32" stroke="#b8b8b8" stroke-width="1.9"/>
<line x1="1077.9" y1="742.8" x2="908.87" y2="651.08" stroke="#787878" stroke-width="1.9"/>
<line x1="1077.9" y1="742.8" x2="939.88" y2="613.09" stroke="#b8b8b8" stroke-width="1.9"/>
<line x1="1077.9" y1="742.8" x2="980.31" y2="583.93" stroke="#787878" stroke-width="1.9"/>
<line x1="1077.9" y1="742.8" x2="1027.38" y2="565.61" stroke="#b8b8b8" stroke-width="1.9"/>
<ellipse cx="1077.9" cy="742.8" rx="19.68" ry="18.5" fill="none" stroke="#000" stroke-width="1.9" stroke-dasharray="4.4 2.7"/>
<ellipse cx="1077.9" cy="742.8" rx="98.21" ry="92.3" fill="none" stroke="#000" stroke-width="1.9" stroke-dasharray="4.4 2.7"/>
<ellipse cx="1077.9" cy="742.8" rx="176.73" ry="166.1" fill="none" stroke="#000" stroke-width="1.9" stroke-dasharray="4.4 2.7"/>
<ellipse cx="1077.9" cy="742.8" rx="195.18" ry="183.44" fill="none" stroke="#000" stroke-width="2.1"/>
<path d="M1077.9 559.36L1077.9 566.56M1128.42 565.61L1127.45 568.99M1175.49 583.93L1171.66 590.17M1215.92 613.09L1213.28 615.56M1246.93 651.08L1240.3 654.68M1266.43 695.32L1262.84 696.23M1273.08 742.8L1265.42 742.8M1266.43 790.28L1262.84 789.37M1246.93 834.52L1240.3 830.92M1215.92 872.51L1213.28 870.04M1175.49 901.67L1171.66 895.43M1128.42 919.99L1127.45 916.61M1077.9 926.24L1077.9 919.04M1027.38 919.99L1028.35 916.61M980.31 901.67L984.14 895.43M939.88 872.51L942.52 870.04M908.87 834.52L915.5 830.92M889.37 790.28L892.96 789.37M882.72 742.8L890.38 742.8M889.37 695.32L892.96 696.23M908.87 651.08L915.5 654.68M939.88 613.09L942.52 615.56M980.31 583.93L984.14 590.17M1027.38 565.61L1028.35 568.99" stroke="#000" stroke-width="2" fill="none"/>
<path d="M1058.54 742.82 L1057.53 741.41 L1056.11 739.74 L1054.37 737.87 L1052.38 735.85 L1050.23 733.73 L1047.98 731.57 L1045.73 729.41 L1043.54 727.32 L1041.51 725.34 L1039.7 723.53 L1038.03 721.87 L1036.39 720.28 L1034.77 718.75 L1033.19 717.28 L1031.67 715.83 L1030.2 714.42 L1028.81 713.01 L1027.49 711.59 L1026.27 710.16 L1025.16 708.69 L1024.16 707.21 L1023.28 705.73 L1022.51 704.24 L1021.81 702.76 L1021.19 701.28 L1020.62 699.79 L1020.07 698.31 L1019.55 696.82 L1019.02 695.34 L1018.48 693.86 L1017.93 692.37 L1017.4 690.89 L1016.88 689.41 L1016.38 687.92 L1015.9 686.44 L1015.46 684.96 L1015.05 683.47 L1014.67 681.99 L1014.33 680.5 L1014.03 679.02 L1013.78 677.53 L1013.58 676.03 L1013.42 674.52 L1013.3 673.01 L1013.21 671.51 L1013.14 670.01 L1013.09 668.53 L1013.05 667.06 L1013.02 665.61 L1012.99 664.18 L1012.98 662.76 L1012.98 661.31 L1013 659.86 L1013.04 658.42 L1013.09 657 L1013.15 655.62 L1013.21 654.3 L1013.29 653.05 L1013.36 651.89 L1013.44 650.83 L1013.5 649.87 L1013.54 648.97 L1013.58 648.15 L1013.61 647.39 L1013.66 646.7 L1013.73 646.08 L1013.84 645.51 L1013.99 645 L1014.2 644.55 L1014.48 644.15 L1014.78 643.9 L1015.1 643.84 L1015.43 643.92 L1015.79 644.07 L1016.21 644.25 L1016.7 644.39 L1017.27 644.43 L1017.95 644.32 L1018.74 644 L1019.67 643.41 L1020.76 642.53 L1022.02 641.4 L1023.41 640.07 L1024.91 638.59 L1026.48 637.01 L1028.11 635.38 L1029.75 633.75 L1031.38 632.16 L1032.98 630.67 L1034.5 629.32 L1035.99 628.06 L1037.47 626.81 L1038.95 625.59 L1040.44 624.39 L1041.92 623.23 L1043.4 622.1 L1044.89 621.03 L1046.37 620.02 L1047.85 619.07 L1049.34 618.19 L1050.82 617.4 L1052.31 616.68 L1053.79 616.04 L1055.27 615.46 L1056.76 614.93 L1058.24 614.43 L1059.72 613.95 L1061.21 613.49 L1062.69 613.02 L1064.17 612.55 L1065.66 612.06 L1067.14 611.57 L1068.62 611.08 L1070.11 610.6 L1071.59 610.15 L1073.07 609.73 L1074.56 609.35 L1076.04 609.02 L1077.52 608.75 L1079.01 608.55 L1080.5 608.42 L1082 608.35 L1083.5 608.35 L1085.01 608.39 L1086.52 608.48 L1088.02 608.6 L1089.5 608.75 L1090.97 608.92 L1092.42 609.1 L1093.84 609.29 L1095.25 609.48 L1096.65 609.68 L1098.05 609.9 L1099.43 610.14 L1100.8 610.4 L1102.14 610.69 L1103.45 611.02 L1104.74 611.39 L1105.99 611.8 L1107.19 612.26 L1108.37 612.75 L1109.51 613.28 L1110.62 613.85 L1111.7 614.45 L1112.76 615.08 L1113.78 615.76 L1114.77 616.48 L1115.74 617.25 L1116.67 618.07 L1117.58 618.93 L1118.45 619.86 L1119.27 620.86 L1120.07 621.92 L1120.83 623.03 L1121.56 624.17 L1122.28 625.34 L1122.97 626.53 L1123.65 627.72 L1124.33 628.9 L1124.99 630.06 L1125.65 631.2 L1126.27 632.34 L1126.87 633.47 L1127.46 634.61 L1128.04 635.76 L1128.6 636.93 L1129.17 638.13 L1129.75 639.35 L1130.33 640.62 L1130.93 641.93 L1131.56 643.29 L1132.24 644.71 L1132.93 646.16 L1133.64 647.65 L1134.34 649.16 L1135.02 650.69 L1135.65 652.22 L1136.23 653.75 L1136.74 655.27 L1137.16 656.77 L1137.49 658.25 L1137.76 659.73 L1137.96 661.22 L1138.11 662.7 L1138.22 664.18 L1138.28 665.67 L1138.32 667.15 L1138.34 668.64 L1138.35 670.12 L1138.35 671.6 L1138.33 673.09 L1138.29 674.57 L1138.23 676.05 L1138.14 677.54 L1138.03 679.02 L1137.9 680.5 L1137.74 681.99 L1137.57 683.47 L1137.37 684.96 L1137.16 686.44 L1136.93 687.92 L1136.7 689.41 L1136.45 690.89 L1136.19 692.37 L1135.9 693.86 L1135.58 695.34 L1135.22 696.82 L1134.83 698.31 L1134.39 699.79 L1133.9 701.28 L1133.37 702.76 L1132.83 704.24 L1132.27 705.73 L1131.67 707.21 L1131.03 708.69 L1130.33 710.18 L1129.57 711.66 L1128.73 713.15 L1127.8 714.63 L1126.77 716.11 L1125.62 717.61 L1124.34 719.13 L1122.95 720.66 L1121.47 722.19 L1119.94 723.72 L1118.38 725.23 L1116.82 726.72 L1115.28 728.17 L1113.8 729.59 L1112.39 730.95 L1110.93 732.26 L1109.32 733.54 L1107.64 734.78 L1105.95 735.98 L1104.32 737.16 L1102.82 738.32 L1101.52 739.46 L1100.48 740.59 L1099.78 741.71 L1099.48 742.82 L1099.61 743.9 L1100.13 744.92 L1100.96 745.9 L1102.06 746.87 L1103.36 747.83 L1104.81 748.8 L1106.35 749.81 L1107.91 750.87 L1109.45 751.99 L1110.9 753.2 L1112.37 754.51 L1113.96 755.89 L1115.65 757.33 L1117.4 758.82 L1119.17 760.34 L1120.94 761.89 L1122.66 763.45 L1124.31 765 L1125.84 766.54 L1127.22 768.04 L1128.47 769.53 L1129.65 771.01 L1130.74 772.49 L1131.77 773.98 L1132.74 775.46 L1133.65 776.94 L1134.51 778.43 L1135.33 779.91 L1136.11 781.39 L1136.86 782.88 L1137.57 784.36 L1138.23 785.85 L1138.83 787.33 L1139.39 788.81 L1139.9 790.3 L1140.38 791.78 L1140.83 793.26 L1141.26 794.75 L1141.66 796.23 L1142.05 797.72 L1142.42 799.2 L1142.76 800.68 L1143.07 802.17 L1143.36 803.65 L1143.61 805.13 L1143.85 806.62 L1144.06 808.1 L1144.25 809.58 L1144.42 811.07 L1144.58 812.55 L1144.71 814.06 L1144.82 815.61 L1144.9 817.19 L1144.96 818.77 L1145 820.34 L1145.03 821.88 L1145.04 823.37 L1145.04 824.8 L1145.03 826.15 L1145.02 827.39 L1145.02 828.55 L1145.03 829.66 L1145.05 830.71 L1145.06 831.7 L1145.05 832.63 L1145.01 833.5 L1144.92 834.3 L1144.78 835.03 L1144.57 835.7 L1144.28 836.29 L1143.94 836.74 L1143.57 837.02 L1143.16 837.17 L1142.71 837.23 L1142.19 837.26 L1141.61 837.31 L1140.94 837.4 L1140.19 837.61 L1139.32 837.96 L1138.35 838.52 L1137.22 839.28 L1135.95 840.2 L1134.55 841.25 L1133.05 842.4 L1131.48 843.62 L1129.87 844.87 L1128.24 846.13 L1126.62 847.37 L1125.03 848.55 L1123.51 849.64 L1122.03 850.68 L1120.54 851.69 L1119.06 852.69 L1117.58 853.68 L1116.09 854.65 L1114.61 855.61 L1113.13 856.55 L1111.64 857.48 L1110.16 858.39 L1108.68 859.29 L1107.19 860.17 L1105.71 861.05 L1104.23 861.91 L1102.74 862.75 L1101.26 863.58 L1099.78 864.39 L1098.29 865.19 L1096.81 865.96 L1095.33 866.72 L1093.84 867.45 L1092.36 868.17 L1090.88 868.89 L1089.39 869.61 L1087.91 870.31 L1086.42 870.98 L1084.94 871.62 L1083.46 872.22 L1081.97 872.77 L1080.49 873.26 L1079.01 873.68 L1077.52 874.04 L1076.04 874.37 L1074.56 874.65 L1073.07 874.88 L1071.59 875.06 L1070.11 875.19 L1068.62 875.27 L1067.14 875.29 L1065.66 875.26 L1064.17 875.16 L1062.69 875.01 L1061.21 874.8 L1059.72 874.54 L1058.24 874.23 L1056.76 873.86 L1055.27 873.43 L1053.79 872.95 L1052.31 872.41 L1050.82 871.81 L1049.34 871.16 L1047.81 870.43 L1046.23 869.62 L1044.61 868.75 L1042.98 867.81 L1041.36 866.83 L1039.8 865.8 L1038.3 864.75 L1036.9 863.67 L1035.63 862.59 L1034.5 861.51 L1033.57 860.43 L1032.81 859.33 L1032.19 858.21 L1031.67 857.07 L1031.21 855.9 L1030.78 854.71 L1030.34 853.49 L1029.85 852.24 L1029.27 850.96 L1028.57 849.64 L1027.73 848.28 L1026.78 846.87 L1025.75 845.41 L1024.68 843.92 L1023.59 842.41 L1022.51 840.88 L1021.48 839.35 L1020.52 837.82 L1019.66 836.3 L1018.93 834.81 L1018.32 833.32 L1017.78 831.84 L1017.32 830.36 L1016.93 828.87 L1016.59 827.39 L1016.3 825.91 L1016.06 824.42 L1015.85 822.94 L1015.67 821.45 L1015.52 819.97 L1015.38 818.49 L1015.29 817 L1015.23 815.52 L1015.21 814.04 L1015.23 812.55 L1015.29 811.07 L1015.39 809.58 L1015.53 808.1 L1015.72 806.62 L1015.96 805.13 L1016.25 803.65 L1016.58 802.17 L1016.97 800.68 L1017.4 799.2 L1017.87 797.72 L1018.38 796.23 L1018.92 794.75 L1019.49 793.26 L1020.09 791.78 L1020.71 790.3 L1021.34 788.81 L1021.99 787.33 L1022.66 785.85 L1023.36 784.36 L1024.1 782.88 L1024.88 781.39 L1025.71 779.91 L1026.6 778.43 L1027.55 776.94 L1028.57 775.46 L1029.68 773.96 L1030.89 772.45 L1032.17 770.92 L1033.52 769.38 L1034.9 767.86 L1036.32 766.34 L1037.74 764.86 L1039.16 763.4 L1040.56 761.99 L1041.92 760.62 L1043.3 759.29 L1044.75 757.96 L1046.24 756.66 L1047.75 755.38 L1049.23 754.13 L1050.66 752.93 L1052.01 751.78 L1053.25 750.7 L1054.35 749.69 L1055.27 748.75 L1056.11 747.98 L1056.92 747.4 L1057.69 746.96 L1058.36 746.59 L1058.92 746.25 L1059.31 745.87 L1059.5 745.39 L1059.46 744.77 L1059.15 743.93 Z" fill="none" stroke="#0000f5" stroke-width="17.4" stroke-linejoin="round"/>
<g fill="#0000f5">
<circle cx="1057.97" cy="741.7" r="8.9"/>
<circle cx="1054.86" cy="736.51" r="8.9"/>
<circle cx="1048.1" cy="731.14" r="8.9"/>
<circle cx="1040.09" cy="725.36" r="8.9"/>
<circle cx="1034.91" cy="720.07" r="8.9"/>
<circle cx="1030.29" cy="714.52" r="8.9"/>
<circle cx="1027.25" cy="712.64" r="8.9"/>
<circle cx="1022.96" cy="706.33" r="8.9"/>
<circle cx="1022.22" cy="704.19" r="8.9"/>
<circle cx="1020.32" cy="697.98" r="8.9"/>
<circle cx="1020.01" cy="692.41" r="8.9"/>
<circle cx="1018.02" cy="688.73" r="8.9"/>
<circle cx="1014.32" cy="683.73" r="8.9"/>
<circle cx="1013.72" cy="681.52" r="8.9"/>
<circle cx="1012.56" cy="676.29" r="8.9"/>
<circle cx="1013.65" cy="671.1" r="8.9"/>
<circle cx="1013.2" cy="665.66" r="8.9"/>
<circle cx="1011.57" cy="661.82" r="8.9"/>
<circle cx="1013.61" cy="658.18" r="8.9"/>
<circle cx="1012.62" cy="654.57" r="8.9"/>
<circle cx="1013.29" cy="650.19" r="8.9"/>
<circle cx="1014.52" cy="648.79" r="8.9"/>
<circle cx="1012.92" cy="646.32" r="8.9"/>
<circle cx="1014.28" cy="645.75" r="8.9"/>
<circle cx="1015.83" cy="643.16" r="8.9"/>
<circle cx="1017.75" cy="643.02" r="8.9"/>
<circle cx="1017.69" cy="645.14" r="8.9"/>
<circle cx="1019.65" cy="642.5" r="8.9"/>
<circle cx="1023.43" cy="639.13" r="8.9"/>
<circle cx="1030.6" cy="633.98" r="8.9"/>
<circle cx="1035.71" cy="628.72" r="8.9"/>
<circle cx="1039.58" cy="625.89" r="8.9"/>
<circle cx="1043.66" cy="621.96" r="8.9"/>
<circle cx="1048.94" cy="620.49" r="8.9"/>
<circle cx="1052.22" cy="617.21" r="8.9"/>
<circle cx="1055.35" cy="615.57" r="8.9"/>
<circle cx="1061.68" cy="615.07" r="8.9"/>
<circle cx="1066.69" cy="611.37" r="8.9"/>
<circle cx="1069.74" cy="611.14" r="8.9"/>
<circle cx="1073.03" cy="609.22" r="8.9"/>
<circle cx="1077.95" cy="607.32" r="8.9"/>
<circle cx="1082.09" cy="609.21" r="8.9"/>
<circle cx="1086.83" cy="607.8" r="8.9"/>
<circle cx="1092.07" cy="610.29" r="8.9"/>
<circle cx="1095.31" cy="609.52" r="8.9"/>
<circle cx="1100.95" cy="611.63" r="8.9"/>
<circle cx="1105.76" cy="612.55" r="8.9"/>
<circle cx="1107.66" cy="612.48" r="8.9"/>
<circle cx="1111.25" cy="615.67" r="8.9"/>
<circle cx="1116.24" cy="615.37" r="8.9"/>
<circle cx="1116.54" cy="618.07" r="8.9"/>
<circle cx="1119.21" cy="621.87" r="8.9"/>
<circle cx="1122.56" cy="624.58" r="8.9"/>
<circle cx="1122.74" cy="628.64" r="8.9"/>
<circle cx="1125.85" cy="632.55" r="8.9"/>
<circle cx="1129.49" cy="636.37" r="8.9"/>
<circle cx="1129.8" cy="639.73" r="8.9"/>
<circle cx="1132.13" cy="641.87" r="8.9"/>
<circle cx="1134.92" cy="648.55" r="8.9"/>
<circle cx="1136.85" cy="653.17" r="8.9"/>
<circle cx="1136.81" cy="656.44" r="8.9"/>
<circle cx="1136.69" cy="661.65" r="8.9"/>
<circle cx="1136.88" cy="664.28" r="8.9"/>
<circle cx="1137.41" cy="669.04" r="8.9"/>
<circle cx="1137.78" cy="673.14" r="8.9"/>
<circle cx="1136.43" cy="677.9" r="8.9"/>
<circle cx="1136.29" cy="683.04" r="8.9"/>
<circle cx="1135.42" cy="689.12" r="8.9"/>
<circle cx="1136.55" cy="691.25" r="8.9"/>
<circle cx="1134.43" cy="696.34" r="8.9"/>
<circle cx="1133.46" cy="700.07" r="8.9"/>
<circle cx="1133.39" cy="707.3" r="8.9"/>
<circle cx="1130.22" cy="710.13" r="8.9"/>
<circle cx="1126.47" cy="713.36" r="8.9"/>
<circle cx="1123.83" cy="718.37" r="8.9"/>
<circle cx="1120.99" cy="722.63" r="8.9"/>
<circle cx="1113.76" cy="729.62" r="8.9"/>
<circle cx="1111.02" cy="731.13" r="8.9"/>
<circle cx="1106.09" cy="734.47" r="8.9"/>
<circle cx="1101.61" cy="740.99" r="8.9"/>
<circle cx="1100.64" cy="743.45" r="8.9"/>
<circle cx="1100.2" cy="745.48" r="8.9"/>
<circle cx="1103.75" cy="749.67" r="8.9"/>
<circle cx="1109.56" cy="752.89" r="8.9"/>
<circle cx="1113.41" cy="755" r="8.9"/>
<circle cx="1120.17" cy="761.9" r="8.9"/>
<circle cx="1125.43" cy="765.98" r="8.9"/>
<circle cx="1129.49" cy="770.29" r="8.9"/>
<circle cx="1130.9" cy="774.03" r="8.9"/>
<circle cx="1134.04" cy="776.92" r="8.9"/>
<circle cx="1135.35" cy="782.17" r="8.9"/>
<circle cx="1138.06" cy="787.95" r="8.9"/>
<circle cx="1141.84" cy="791.61" r="8.9"/>
<circle cx="1143.06" cy="797.79" r="8.9"/>
<circle cx="1144.22" cy="800.25" r="8.9"/>
<circle cx="1142.72" cy="804.26" r="8.9"/>
<circle cx="1143.28" cy="808.64" r="8.9"/>
<circle cx="1145.11" cy="815.34" r="8.9"/>
<circle cx="1146.05" cy="818.71" r="8.9"/>
<circle cx="1145.53" cy="824.33" r="8.9"/>
<circle cx="1143.69" cy="827.9" r="8.9"/>
<circle cx="1146.36" cy="831.61" r="8.9"/>
<circle cx="1145.81" cy="833.43" r="8.9"/>
<circle cx="1143.54" cy="836.62" r="8.9"/>
<circle cx="1143.03" cy="837.98" r="8.9"/>
<circle cx="1143.7" cy="836.93" r="8.9"/>
<circle cx="1139.87" cy="839.04" r="8.9"/>
<circle cx="1137.94" cy="838.22" r="8.9"/>
<circle cx="1131.86" cy="841.28" r="8.9"/>
<circle cx="1129.54" cy="847.12" r="8.9"/>
<circle cx="1122.38" cy="850.69" r="8.9"/>
<circle cx="1120.6" cy="853.2" r="8.9"/>
<circle cx="1114.13" cy="855.76" r="8.9"/>
<circle cx="1108.98" cy="856.84" r="8.9"/>
<circle cx="1107.22" cy="861.52" r="8.9"/>
<circle cx="1101.34" cy="864.97" r="8.9"/>
<circle cx="1096.6" cy="867.15" r="8.9"/>
<circle cx="1093.4" cy="867.25" r="8.9"/>
<circle cx="1087.11" cy="869.64" r="8.9"/>
<circle cx="1082.63" cy="872.5" r="8.9"/>
<circle cx="1078.24" cy="873.42" r="8.9"/>
<circle cx="1073.38" cy="875.96" r="8.9"/>
<circle cx="1069.64" cy="875.06" r="8.9"/>
<circle cx="1065.92" cy="876.55" r="8.9"/>
<circle cx="1060.95" cy="876.14" r="8.9"/>
<circle cx="1056.76" cy="873.96" r="8.9"/>
<circle cx="1052.38" cy="870.87" r="8.9"/>
<circle cx="1047.62" cy="869.42" r="8.9"/>
<circle cx="1041.39" cy="868.77" r="8.9"/>
<circle cx="1037.25" cy="864.66" r="8.9"/>
<circle cx="1035.22" cy="861.69" r="8.9"/>
<circle cx="1031.63" cy="858.27" r="8.9"/>
<circle cx="1030.96" cy="855.62" r="8.9"/>
<circle cx="1028.01" cy="851.15" r="8.9"/>
<circle cx="1025.97" cy="846.15" r="8.9"/>
<circle cx="1024.46" cy="842.44" r="8.9"/>
<circle cx="1020.71" cy="838.65" r="8.9"/>
<circle cx="1019.64" cy="833.14" r="8.9"/>
<circle cx="1017.29" cy="828.89" r="8.9"/>
<circle cx="1016.1" cy="825.04" r="8.9"/>
<circle cx="1015.36" cy="820.08" r="8.9"/>
<circle cx="1015.16" cy="816.93" r="8.9"/>
<circle cx="1015.93" cy="812.27" r="8.9"/>
<circle cx="1017.14" cy="805.85" r="8.9"/>
<circle cx="1016.78" cy="803.58" r="8.9"/>
<circle cx="1018.96" cy="796.55" r="8.9"/>
<circle cx="1018.28" cy="793.08" r="8.9"/>
<circle cx="1019.98" cy="787.98" r="8.9"/>
<circle cx="1022" cy="784.9" r="8.9"/>
<circle cx="1026.62" cy="781.18" r="8.9"/>
<circle cx="1027.46" cy="776.15" r="8.9"/>
<circle cx="1032.68" cy="769.77" r="8.9"/>
<circle cx="1037.54" cy="767.84" r="8.9"/>
<circle cx="1039.66" cy="763.43" r="8.9"/>
<circle cx="1044.43" cy="757.92" r="8.9"/>
<circle cx="1050.79" cy="755.2" r="8.9"/>
<circle cx="1052.16" cy="750.48" r="8.9"/>
<circle cx="1056.16" cy="747.47" r="8.9"/>
<circle cx="1057.39" cy="746.01" r="8.9"/>
<circle cx="1060.21" cy="743.86" r="8.9"/>
</g>
<line x1="1077.9" y1="742.8" x2="1077.9" y2="668" stroke="#f01010" stroke-width="2.4"/>
<polygon points="1077.9,655.6 1072.5,669.5 1083.3,669.5" fill="#f01010"/>
<line x1="1077.9" y1="742.8" x2="1162" y2="742.8" stroke="#f01010" stroke-width="2.4"/>
<polygon points="1175.5,742.8 1160.5,737.4 1160.5,748.2" fill="#f01010"/>
<text x="1060" y="662.3" text-anchor="middle" font-size="29" font-style="italic" fill="#f01010">x</text>
<text x="1180" y="768.8" text-anchor="middle" font-size="29" font-style="italic" fill="#f01010">y</text>
<line x1="808" y1="558.2" x2="808" y2="927.4" stroke="#000" stroke-width="2"/>
<path d="M808 724.3L799.5 724.3M808 761.3L799.5 761.3M808 650.5L799.5 650.5M808 835.1L799.5 835.1M808 576.7L799.5 576.7M808 908.9L799.5 908.9M808 687.4L803.5 687.4M808 798.2L803.5 798.2M808 613.6L803.5 613.6M808 872L803.5 872" stroke="#000" stroke-width="2" fill="none"/>
<text x="792.3" y="588.4" text-anchor="end">0.004</text>
<text x="792.3" y="659.9" text-anchor="end">0.002</text>
<text x="792.3" y="733.6" text-anchor="end">0.000</text>
<text x="792.3" y="772" text-anchor="end">0.000</text>
<text x="792.3" y="843.5" text-anchor="end">0.002</text>
<text x="792.3" y="916.7" text-anchor="end">0.004</text>
<text x="693.9" y="740.6" text-anchor="middle" font-size="28.7" transform="rotate(-90 693.9 740.6)">Photovoltage (mV)</text>
<text x="1186.8" y="570.6" text-anchor="middle">30</text>
<text x="1272.3" y="645" text-anchor="middle">60</text>
<text x="1302.2" y="754.3" text-anchor="middle">90</text>
<text x="1283.15" y="857.6" text-anchor="middle">120</text>
<text x="1204.3" y="932.7" text-anchor="middle">150</text>
<text x="1078.9" y="962.2" text-anchor="middle">180</text>
<text x="945.3" y="938.5" text-anchor="middle">210</text>
<text x="870.3" y="863.5" text-anchor="middle">240</text>
<text x="842.65" y="754.3" text-anchor="middle">270</text>
<text x="869.95" y="647" text-anchor="middle">300</text>
<text x="945.45" y="574.7" text-anchor="middle">330</text>
<text x="1068.8" y="547.2">0 (Deg)</text>
<text x="668.4" y="536" font-size="42.5" font-weight="bold">d</text>
<g fill="#0000f5">
<circle cx="151.4" cy="1106" r="11.4"/>
<circle cx="224.7" cy="1207.7" r="11.4"/>
<circle cx="297.6" cy="1271.6" r="11.4"/>
<circle cx="370.4" cy="1337.5" r="11.4"/>
<circle cx="443.8" cy="1360" r="11.4"/>
<circle cx="517.2" cy="1368.5" r="11.4"/>
<circle cx="590.1" cy="1369.4" r="11.4"/>
</g>
<path d="M151.3 1400.4L151.3 1391.9M151.3 1045.3L151.3 1053.8M224.42 1400.4L224.42 1391.9M224.42 1045.3L224.42 1053.8M297.54 1400.4L297.54 1391.9M297.54 1045.3L297.54 1053.8M370.66 1400.4L370.66 1391.9M370.66 1045.3L370.66 1053.8M443.78 1400.4L443.78 1391.9M443.78 1045.3L443.78 1053.8M516.9 1400.4L516.9 1391.9M516.9 1045.3L516.9 1053.8M590.02 1400.4L590.02 1391.9M590.02 1045.3L590.02 1053.8M187.86 1400.4L187.86 1395.9M187.86 1045.3L187.86 1049.8M260.98 1400.4L260.98 1395.9M260.98 1045.3L260.98 1049.8M334.1 1400.4L334.1 1395.9M334.1 1045.3L334.1 1049.8M407.22 1400.4L407.22 1395.9M407.22 1045.3L407.22 1049.8M480.34 1400.4L480.34 1395.9M480.34 1045.3L480.34 1049.8M553.46 1400.4L553.46 1395.9M553.46 1045.3L553.46 1049.8M133.4 1370.8L141.9 1370.8M608.1 1370.8L599.6 1370.8M133.4 1305.7L141.9 1305.7M608.1 1305.7L599.6 1305.7M133.4 1240.6L141.9 1240.6M608.1 1240.6L599.6 1240.6M133.4 1175.5L141.9 1175.5M608.1 1175.5L599.6 1175.5M133.4 1110.4L141.9 1110.4M608.1 1110.4L599.6 1110.4M133.4 1045.3L141.9 1045.3M608.1 1045.3L599.6 1045.3M133.4 1338.25L137.9 1338.25M608.1 1338.25L603.6 1338.25M133.4 1273.15L137.9 1273.15M608.1 1273.15L603.6 1273.15M133.4 1208.05L137.9 1208.05M608.1 1208.05L603.6 1208.05M133.4 1142.95L137.9 1142.95M608.1 1142.95L603.6 1142.95M133.4 1077.85L137.9 1077.85M608.1 1077.85L603.6 1077.85" stroke="#000" stroke-width="2" fill="none"/>
<rect x="133.4" y="1045.3" width="474.7" height="355.1" fill="none" stroke="#000" stroke-width="2"/>
<text x="120.8" y="1380.8" text-anchor="end">0.00</text>
<text x="120.8" y="1316" text-anchor="end">0.02</text>
<text x="120.8" y="1251.2" text-anchor="end">0.04</text>
<text x="120.8" y="1186.4" text-anchor="end">0.06</text>
<text x="120.8" y="1121.6" text-anchor="end">0.08</text>
<text x="120.8" y="1056.8" text-anchor="end">0.10</text>
<text x="151.3" y="1434.6" text-anchor="middle">10</text>
<text x="224.42" y="1434.6" text-anchor="middle">30</text>
<text x="297.54" y="1434.6" text-anchor="middle">50</text>
<text x="370.66" y="1434.6" text-anchor="middle">70</text>
<text x="443.78" y="1434.6" text-anchor="middle">90</text>
<text x="516.9" y="1434.6" text-anchor="middle">110</text>
<text x="590.02" y="1434.6" text-anchor="middle">130</text>
<text x="370" y="1476.5" text-anchor="middle">Spacing (&#956;m)</text>
<text x="36.7" y="1220.9" text-anchor="middle" font-size="28.7" transform="rotate(-90 36.7 1220.9)">Photovoltage (mV)</text>
<text x="11" y="1043.3" font-size="46" font-weight="bold">e</text>
<clipPath id="cf"><rect x="807.4" y="1040" width="484.1" height="359.5999999999999"/></clipPath>
<g clip-path="url(#cf)">
<g fill="#0000f5">
<circle cx="809" cy="1326.98" r="11.4"/>
<circle cx="815.04" cy="1327.28" r="11.4"/>
<circle cx="821.08" cy="1325.73" r="11.4"/>
<circle cx="827.12" cy="1328.59" r="11.4"/>
<circle cx="833.16" cy="1331.32" r="11.4"/>
<circle cx="839.2" cy="1330.3" r="11.4"/>
<circle cx="845.24" cy="1327.24" r="11.4"/>
<circle cx="851.28" cy="1332.39" r="11.4"/>
<circle cx="857.32" cy="1330.83" r="11.4"/>
<circle cx="863.36" cy="1331.55" r="11.4"/>
<circle cx="869.4" cy="1325.97" r="11.4"/>
<circle cx="875.44" cy="1326.56" r="11.4"/>
<circle cx="881.48" cy="1324.79" r="11.4"/>
<circle cx="887.52" cy="1328.82" r="11.4"/>
<circle cx="893.56" cy="1325.37" r="11.4"/>
<circle cx="899.6" cy="1324.11" r="11.4"/>
<circle cx="905.64" cy="1325.46" r="11.4"/>
<circle cx="911.68" cy="1327.99" r="11.4"/>
<circle cx="917.72" cy="1327.2" r="11.4"/>
<circle cx="923.76" cy="1324.26" r="11.4"/>
<circle cx="929.8" cy="1324.04" r="11.4"/>
<circle cx="935.84" cy="1329.08" r="11.4"/>
<circle cx="941.88" cy="1327.42" r="11.4"/>
<circle cx="947.92" cy="1329.18" r="11.4"/>
<circle cx="953.96" cy="1327.03" r="11.4"/>
<circle cx="960" cy="1328.35" r="11.4"/>
<circle cx="966.04" cy="1333.63" r="11.4"/>
<circle cx="972.08" cy="1332.8" r="11.4"/>
<circle cx="978.12" cy="1331.42" r="11.4"/>
<circle cx="984.16" cy="1328.74" r="11.4"/>
<circle cx="964.5" cy="1324" r="11.4"/>
<circle cx="990.3" cy="1316.5" r="11.4"/>
<circle cx="994.8" cy="1308.2" r="11.4"/>
<circle cx="1000.8" cy="1305.9" r="11.4"/>
<circle cx="1009.9" cy="1309.7" r="11.4"/>
<circle cx="999.9" cy="1299.7" r="11.4"/>
<circle cx="1014.9" cy="1277.2" r="11.4"/>
<circle cx="1019.9" cy="1258.1" r="11.4"/>
<circle cx="1024.9" cy="1233.1" r="11.4"/>
<circle cx="1029.6" cy="1214.8" r="11.4"/>
<circle cx="1034.9" cy="1183.5" r="11.4"/>
<circle cx="1039.5" cy="1140.2" r="11.4"/>
<circle cx="1044.5" cy="1118.6" r="11.4"/>
<circle cx="1049.9" cy="1161.5" r="11.4"/>
<circle cx="1054.9" cy="1219" r="11.4"/>
<circle cx="1059.8" cy="1224" r="11.4"/>
<circle cx="1064.5" cy="1175.2" r="11.4"/>
<circle cx="1069.8" cy="1139.9" r="11.4"/>
<circle cx="1074.8" cy="1151.6" r="11.4"/>
<circle cx="1079.8" cy="1146.6" r="11.4"/>
<circle cx="1084.8" cy="1117.4" r="11.4"/>
<circle cx="1091.5" cy="1105" r="11.4"/>
<circle cx="1094.8" cy="1102.5" r="11.4"/>
<circle cx="1099.8" cy="1175.7" r="11.4"/>
<circle cx="1104.8" cy="1263.1" r="11.4"/>
<circle cx="1109.8" cy="1283" r="11.4"/>
<circle cx="1114.8" cy="1248.1" r="11.4"/>
<circle cx="1119.8" cy="1216.5" r="11.4"/>
<circle cx="1124.8" cy="1214.8" r="11.4"/>
<circle cx="1129.7" cy="1233.9" r="11.4"/>
<circle cx="1134.7" cy="1266.4" r="11.4"/>
<circle cx="1144.7" cy="1249.7" r="11.4"/>
<circle cx="1149.7" cy="1283" r="11.4"/>
<circle cx="1115.1" cy="1249.1" r="11.4"/>
<circle cx="1106" cy="1262.7" r="11.4"/>
<circle cx="1146.9" cy="1249.8" r="11.4"/>
<circle cx="1134.8" cy="1267.2" r="11.4"/>
<circle cx="1149.9" cy="1283.9" r="11.4"/>
<circle cx="1154.5" cy="1303.5" r="11.4"/>
<circle cx="1166.6" cy="1303.5" r="11.4"/>
<circle cx="1172.6" cy="1320.2" r="11.4"/>
<circle cx="1184.7" cy="1333.8" r="11.4"/>
<circle cx="1190.8" cy="1330.8" r="11.4"/>
<circle cx="1201.4" cy="1327.7" r="11.4"/>
<circle cx="1207" cy="1331" r="11.4"/>
<circle cx="1213.5" cy="1329.3" r="11.4"/>
<circle cx="1218" cy="1332" r="11.4"/>
<circle cx="1224" cy="1335.3" r="11.4"/>
<circle cx="1234.6" cy="1324.7" r="11.4"/>
</g>
<polyline points="807.4,1322.4 810.04,1322.94 813.53,1323.74 817.75,1324.66 822.54,1325.55 827.77,1326.24 833.3,1326.6 839.32,1326.56 846,1326.24 853.12,1325.74 860.45,1325.13 867.78,1324.52 874.9,1324 881.99,1323.49 889.26,1322.9 896.53,1322.31 903.62,1321.79 910.34,1321.39 916.5,1321.2 922.07,1321.22 927.18,1321.39 931.93,1321.69 936.39,1322.11 940.65,1322.62 944.8,1323.2 948.85,1323.94 952.73,1324.86 956.41,1325.88 959.86,1326.89 963.07,1327.8 966,1328.5 968.62,1329.09 970.93,1329.67 973,1330.14 974.87,1330.42 976.58,1330.4 978.2,1330 979.63,1329.25 980.81,1328.22 981.84,1326.91 982.82,1325.28 983.84,1323.32 985,1321 986.2,1318.38 987.35,1315.48 988.54,1312.25 989.86,1308.63 991.42,1304.56 993.3,1300 995.62,1294.72 998.34,1288.71 1001.29,1282.26 1004.3,1275.64 1007.23,1269.13 1009.9,1263 1012.35,1257.25 1014.7,1251.66 1016.96,1246.17 1019.13,1240.73 1021.21,1235.3 1023.2,1229.8 1025.08,1224.29 1026.84,1218.83 1028.51,1213.36 1030.11,1207.85 1031.67,1202.24 1033.2,1196.5 1034.68,1190.34 1036.09,1183.74 1037.45,1177.06 1038.79,1170.62 1040.13,1164.79 1041.5,1159.9 1042.88,1156.11 1044.24,1153.17 1045.6,1150.84 1046.99,1148.85 1048.41,1146.95 1049.9,1144.9 1051.46,1142.68 1053.09,1140.48 1054.75,1138.38 1056.44,1136.43 1058.13,1134.72 1059.8,1133.3 1061.46,1132.14 1063.13,1131.19 1064.79,1130.46 1066.46,1129.98 1068.13,1129.79 1069.8,1129.9 1071.47,1130.38 1073.13,1131.2 1074.8,1132.31 1076.47,1133.63 1078.13,1135.08 1079.8,1136.6 1081.47,1138.15 1083.13,1139.79 1084.8,1141.57 1086.47,1143.53 1088.13,1145.72 1089.8,1148.2 1091.47,1151.07 1093.13,1154.31 1094.8,1157.78 1096.47,1161.35 1098.13,1164.87 1099.8,1168.2 1101.49,1171.44 1103.2,1174.73 1104.91,1177.98 1106.59,1181.08 1108.23,1183.95 1109.8,1186.5 1111.3,1188.57 1112.75,1190.2 1114.16,1191.61 1115.51,1192.99 1116.83,1194.55 1118.1,1196.5 1119.31,1198.79 1120.46,1201.23 1121.56,1203.86 1122.63,1206.7 1123.71,1209.77 1124.8,1213.1 1125.89,1216.8 1126.94,1220.87 1128,1225.18 1129.08,1229.58 1130.2,1233.93 1131.4,1238.1 1132.68,1242.14 1134.04,1246.18 1135.44,1250.17 1136.87,1254.07 1138.3,1257.83 1139.7,1261.4 1141.08,1264.82 1142.46,1268.12 1143.84,1271.28 1145.23,1274.28 1146.61,1277.1 1148,1279.7 1149.39,1282.09 1150.79,1284.29 1152.18,1286.31 1153.58,1288.14 1154.99,1289.8 1156.4,1291.3 1157.81,1292.58 1159.21,1293.64 1160.62,1294.52 1162.04,1295.29 1163.5,1295.99 1165,1296.7 1166.48,1297.21 1167.91,1297.44 1169.38,1297.61 1170.95,1297.95 1172.7,1298.67 1174.7,1300 1176.94,1302.12 1179.35,1304.89 1181.94,1308.05 1184.71,1311.33 1187.66,1314.47 1190.8,1317.2 1194.21,1319.57 1197.91,1321.8 1201.79,1323.88 1205.75,1325.83 1209.69,1327.63 1213.5,1329.3 1217.45,1330.85 1221.67,1332.3 1225.87,1333.61 1229.75,1334.74 1233.03,1335.69 1235.4,1336.4" fill="none" stroke="#e0142a" stroke-width="2.5" stroke-linejoin="round" stroke-linecap="round"/>
</g>
<path d="M807.4 1399.6L807.4 1391.1M807.4 1040L807.4 1048.5M928.27 1399.6L928.27 1391.1M928.27 1040L928.27 1048.5M1049.14 1399.6L1049.14 1391.1M1049.14 1040L1049.14 1048.5M1170.01 1399.6L1170.01 1391.1M1170.01 1040L1170.01 1048.5M1290.88 1399.6L1290.88 1391.1M1290.88 1040L1290.88 1048.5M867.84 1399.6L867.84 1395.1M867.84 1040L867.84 1044.5M988.7 1399.6L988.7 1395.1M988.7 1040L988.7 1044.5M1109.57 1399.6L1109.57 1395.1M1109.57 1040L1109.57 1044.5M1230.44 1399.6L1230.44 1395.1M1230.44 1040L1230.44 1044.5M807.4 1365.5L815.9 1365.5M1291.5 1365.5L1283 1365.5M807.4 1294.7L815.9 1294.7M1291.5 1294.7L1283 1294.7M807.4 1223.9L815.9 1223.9M1291.5 1223.9L1283 1223.9M807.4 1153.1L815.9 1153.1M1291.5 1153.1L1283 1153.1M807.4 1082.3L815.9 1082.3M1291.5 1082.3L1283 1082.3M807.4 1330.1L811.9 1330.1M1291.5 1330.1L1287 1330.1M807.4 1259.3L811.9 1259.3M1291.5 1259.3L1287 1259.3M807.4 1188.5L811.9 1188.5M1291.5 1188.5L1287 1188.5M807.4 1117.7L811.9 1117.7M1291.5 1117.7L1287 1117.7M807.4 1046.9L811.9 1046.9M1291.5 1046.9L1287 1046.9" stroke="#000" stroke-width="2" fill="none"/>
<rect x="807.4" y="1040" width="484.1" height="359.6" fill="none" stroke="#000" stroke-width="2"/>
<text x="792.3" y="1374.8" text-anchor="end">0.000</text>
<text x="792.3" y="1304" text-anchor="end">0.001</text>
<text x="792.3" y="1233.2" text-anchor="end">0.002</text>
<text x="792.3" y="1162.4" text-anchor="end">0.003</text>
<text x="792.3" y="1091.6" text-anchor="end">0.004</text>
<text x="807.4" y="1434.8" text-anchor="middle">0.13</text>
<text x="928.27" y="1434.8" text-anchor="middle">0.14</text>
<text x="1049.14" y="1434.8" text-anchor="middle">0.15</text>
<text x="1170.01" y="1434.8" text-anchor="middle">0.16</text>
<text x="1292.88" y="1434.8" text-anchor="middle">0.17</text>
<text x="1048" y="1478" text-anchor="middle">Photon energy (meV)</text>
<text x="691.2" y="1222.2" text-anchor="middle" font-size="28.7" transform="rotate(-90 691.2 1222.2)">Photovoltage (mV)</text>
<text x="667" y="1042.5" font-size="40" font-weight="bold">f</text>
<g fill="#0000f5">
<circle cx="551" cy="1612.4" r="12.2"/>
<circle cx="564.1" cy="1640.4" r="12.2"/>
<circle cx="544.8" cy="1667.9" r="12.2"/>
<circle cx="570.5" cy="1679.3" r="12.2"/>
<circle cx="577.3" cy="1706.2" r="12.2"/>
<circle cx="531.6" cy="1718.3" r="12.2"/>
<circle cx="538.4" cy="1722.4" r="12.2"/>
<circle cx="518.7" cy="1740.2" r="12.2"/>
<circle cx="525.1" cy="1751.9" r="12.2"/>
<circle cx="583.5" cy="1754.1" r="12.2"/>
<circle cx="589.8" cy="1792.7" r="12.2"/>
<circle cx="597.4" cy="1788.2" r="12.2"/>
<circle cx="586.3" cy="1790.9" r="12.2"/>
<circle cx="602.7" cy="1805.9" r="12.2"/>
<circle cx="608.1" cy="1831.7" r="12.2"/>
<circle cx="617.7" cy="1837.2" r="12.2"/>
<circle cx="623.1" cy="1852.2" r="12.2"/>
<circle cx="628.6" cy="1872.6" r="12.2"/>
<circle cx="635.4" cy="1883.6" r="12.2"/>
<circle cx="641.18" cy="1892.46" r="12.2"/>
<circle cx="646.96" cy="1887.89" r="12.2"/>
<circle cx="652.74" cy="1892.21" r="12.2"/>
<circle cx="658.52" cy="1886.48" r="12.2"/>
<circle cx="664.3" cy="1894.57" r="12.2"/>
<circle cx="670.08" cy="1894.22" r="12.2"/>
<circle cx="675.86" cy="1895" r="12.2"/>
<circle cx="681.64" cy="1893.91" r="12.2"/>
<circle cx="687.42" cy="1894.17" r="12.2"/>
<circle cx="693.2" cy="1891.06" r="12.2"/>
<circle cx="698.98" cy="1891.59" r="12.2"/>
<circle cx="704.76" cy="1895.88" r="12.2"/>
<circle cx="710.54" cy="1888.13" r="12.2"/>
<circle cx="716.32" cy="1888.31" r="12.2"/>
<circle cx="722.1" cy="1891.29" r="12.2"/>
<circle cx="727.88" cy="1892.19" r="12.2"/>
<circle cx="733.66" cy="1891.62" r="12.2"/>
<circle cx="739.44" cy="1890.76" r="12.2"/>
<circle cx="745.22" cy="1890.61" r="12.2"/>
<circle cx="751" cy="1895.96" r="12.2"/>
<circle cx="756.78" cy="1894.85" r="12.2"/>
<circle cx="762.56" cy="1898.5" r="12.2"/>
<circle cx="768.34" cy="1896.2" r="12.2"/>
<circle cx="774.12" cy="1896.05" r="12.2"/>
<circle cx="779.9" cy="1896.35" r="12.2"/>
<circle cx="785.68" cy="1900.64" r="12.2"/>
<circle cx="791.46" cy="1901.66" r="12.2"/>
<circle cx="797.24" cy="1906.8" r="12.2"/>
<circle cx="803.02" cy="1905.37" r="12.2"/>
<circle cx="808.8" cy="1902.69" r="12.2"/>
<circle cx="814.58" cy="1904.54" r="12.2"/>
<circle cx="820.36" cy="1907.03" r="12.2"/>
<circle cx="826.14" cy="1900.45" r="12.2"/>
<circle cx="831.92" cy="1904.75" r="12.2"/>
<circle cx="837.7" cy="1902.18" r="12.2"/>
<circle cx="843.48" cy="1902.76" r="12.2"/>
<circle cx="849.26" cy="1905.28" r="12.2"/>
<circle cx="855.04" cy="1902.33" r="12.2"/>
<circle cx="860.82" cy="1901.33" r="12.2"/>
<circle cx="866.6" cy="1900.42" r="12.2"/>
<circle cx="872.38" cy="1903.97" r="12.2"/>
<circle cx="878.16" cy="1902.38" r="12.2"/>
<circle cx="883.94" cy="1906.65" r="12.2"/>
<circle cx="889.72" cy="1903.14" r="12.2"/>
<circle cx="895.5" cy="1900.01" r="12.2"/>
<circle cx="901.28" cy="1898.39" r="12.2"/>
<circle cx="902" cy="1892" r="12.2"/>
</g>
<polyline points="518.7,1743.6 525.6,1741.3 531.6,1732.2 536.9,1711 551,1626.3 564.1,1636.1 572.5,1692.9 588.3,1782.1 604,1810 621.7,1853.5 634,1880.8 642.2,1891.7 657.1,1888.9 674.8,1896.6 687.1,1891.1 704.8,1895.7 711.6,1888.9 726.6,1895.7 742.9,1891.1 764.7,1899.3 774.2,1897.1 792,1905.3 815.1,1904.7 831.4,1902.5 856,1903.1 868.2,1898.5 881.8,1905.3 900.9,1896.6" fill="none" stroke="#e0142a" stroke-width="2.0" stroke-linejoin="round" stroke-linecap="round"/>
<path d="M496.2 1940.6L496.2 1932.1M496.2 1580.8L496.2 1589.3M611.76 1940.6L611.76 1932.1M611.76 1580.8L611.76 1589.3M727.32 1940.6L727.32 1932.1M727.32 1580.8L727.32 1589.3M842.88 1940.6L842.88 1932.1M842.88 1580.8L842.88 1589.3M958.44 1940.6L958.44 1932.1M958.44 1580.8L958.44 1589.3M553.98 1940.6L553.98 1936.1M553.98 1580.8L553.98 1585.3M669.54 1940.6L669.54 1936.1M669.54 1580.8L669.54 1585.3M785.1 1940.6L785.1 1936.1M785.1 1580.8L785.1 1585.3M900.66 1940.6L900.66 1936.1M900.66 1580.8L900.66 1585.3M468 1919.6L476.5 1919.6M957.6 1919.6L949.1 1919.6M468 1834.8L476.5 1834.8M957.6 1834.8L949.1 1834.8M468 1750L476.5 1750M957.6 1750L949.1 1750M468 1665.2L476.5 1665.2M957.6 1665.2L949.1 1665.2M468 1580.4L476.5 1580.4M957.6 1580.4L949.1 1580.4M468 1877.2L472.5 1877.2M957.6 1877.2L953.1 1877.2M468 1792.4L472.5 1792.4M957.6 1792.4L953.1 1792.4M468 1707.6L472.5 1707.6M957.6 1707.6L953.1 1707.6M468 1622.8L472.5 1622.8M957.6 1622.8L953.1 1622.8" stroke="#000" stroke-width="2" fill="none"/>
<rect x="468" y="1580.8" width="489.6" height="359.8" fill="none" stroke="#000" stroke-width="2"/>
<text x="456.4" y="1929.1" text-anchor="end">0.000</text>
<text x="456.4" y="1844.3" text-anchor="end">0.004</text>
<text x="456.4" y="1759.5" text-anchor="end">0.008</text>
<text x="456.4" y="1674.7" text-anchor="end">0.012</text>
<text x="456.4" y="1589.9" text-anchor="end">0.016</text>
<text x="496.2" y="1975.2" text-anchor="middle">1.36</text>
<text x="611.76" y="1975.2" text-anchor="middle">1.38</text>
<text x="727.32" y="1975.2" text-anchor="middle">1.40</text>
<text x="842.88" y="1975.2" text-anchor="middle">1.42</text>
<text x="958.44" y="1975.2" text-anchor="middle">1.44</text>
<text x="727" y="2014.4" text-anchor="middle">Photon energy (meV)</text>
<text x="363.9" y="1740.9" text-anchor="middle" font-size="28.7" transform="rotate(-90 363.9 1740.9)">Photovoltage (mV)</text>
<text x="339.3" y="1555.5" font-size="42.5" font-weight="bold">g</text>
</svg>
</body></html>
